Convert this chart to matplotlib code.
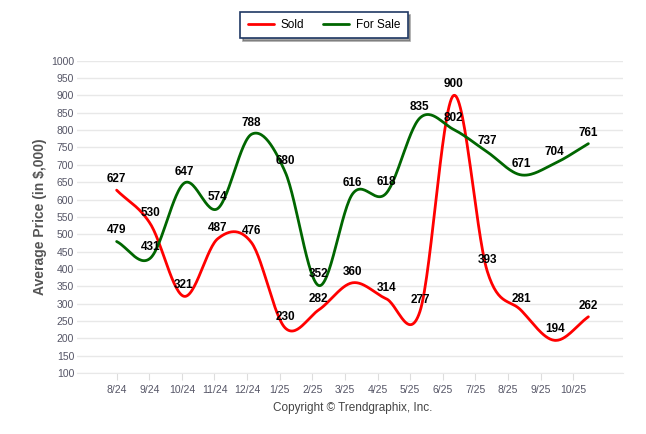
#!/usr/bin/env python3
"""Average sold vs for-sale price, monthly, as smooth spline lines."""
import numpy as np
import matplotlib

matplotlib.use("Agg")  # headless / no display
import matplotlib.pyplot as plt

MONTHS = ["8/24", "9/24", "10/24", "11/24", "12/24", "1/25", "2/25", "3/25",
          "4/25", "5/25", "6/25", "7/25", "8/25", "9/25", "10/25"]
SOLD = [627, 530, 321, 487, 476, 230, 282, 360, 314, 277, 900, 393, 281, 194, 262]
FOR_SALE = [479, 431, 647, 574, 788, 680, 352, 616, 618, 835, 802, 737, 671, 704, 761]

SOLD_COLOUR = "#ff0000"
FOR_SALE_COLOUR = "#006600"


def catmull_rom(ys, steps=30):
    # Smooth curve through every point (rendering only).
    ys = np.asarray(ys, dtype=float)
    p = np.concatenate([[2 * ys[0] - ys[1]], ys, [2 * ys[-1] - ys[-2]]])
    xs_out, ys_out = [], []
    t = np.linspace(0, 1, steps, endpoint=False)
    for i in range(len(ys) - 1):
        p0, p1, p2, p3 = p[i], p[i + 1], p[i + 2], p[i + 3]
        seg = 0.5 * ((2 * p1) + (-p0 + p2) * t
                     + (2 * p0 - 5 * p1 + 4 * p2 - p3) * t ** 2
                     + (-p0 + 3 * p1 - 3 * p2 + p3) * t ** 3)
        xs_out.extend(i + t)
        ys_out.extend(seg)
    xs_out.append(len(ys) - 1)
    ys_out.append(ys[-1])
    return np.array(xs_out), np.array(ys_out)


def main():
    plt.rcParams["font.family"] = ["Liberation Sans", "DejaVu Sans"]
    fig = plt.figure(figsize=(6.46, 4.34), dpi=100)
    ax = fig.add_axes([0.119, 0.1406, 0.845, 0.7194])

    x = np.arange(len(MONTHS))
    for vals, colour, label in [(SOLD, SOLD_COLOUR, "Sold"),
                                (FOR_SALE, FOR_SALE_COLOUR, "For Sale")]:
        sx, sy = catmull_rom(vals)
        ax.plot(sx, sy, color=colour, lw=2, label=label, solid_capstyle="round")
        for xi, v in zip(x, vals):
            ax.annotate(str(v), xy=(xi, v), xytext=(0, 8), textcoords="offset points",
                        ha="center", va="center", fontsize=8.5, fontweight="bold",
                        color="black", annotation_clip=False, zorder=5)

    ax.set_xlim(-1.18, 15.02)
    ax.set_ylim(100, 1000)
    ax.set_yticks(np.arange(100, 1001, 50))
    ax.tick_params(axis="y", length=0, labelsize=7.5, labelcolor="#555566", pad=2)
    # category labels sit on a slightly tighter pitch than the points
    ax.set_xticks(x * 0.968)
    ax.set_xticklabels(MONTHS)
    ax.tick_params(axis="x", length=5, color="#dddddd", labelsize=7.5,
                   labelcolor="#555566", pad=4)
    ax.grid(axis="y", color="#e8e8e8", lw=1)
    ax.set_axisbelow(True)
    for side in ["top", "right", "left"]:
        ax.spines[side].set_visible(False)
    ax.spines["bottom"].set_color("#e8e8e8")

    ax.set_ylabel("Average Price (in $,000)", fontsize=10, fontweight="bold",
                  color="#555555", labelpad=3)

    leg = fig.legend(loc="center", bbox_to_anchor=(324 / 646, 1 - 25 / 434), ncol=2,
                     frameon=True, fancybox=False, shadow=True, fontsize=8.5,
                     handlelength=2.2, handletextpad=0.6, columnspacing=1.6,
                     borderpad=0.6)
    leg.get_frame().set_edgecolor("#1f3864")
    leg.get_frame().set_linewidth(1.2)

    fig.text(353 / 646, 1 - 408 / 434, "Copyright \u00a9 Trendgraphix, Inc.",
             ha="center", va="center", fontsize=8.5, color="#444444")

    fig.savefig("out.png", dpi=100)


if __name__ == "__main__":
    main()
